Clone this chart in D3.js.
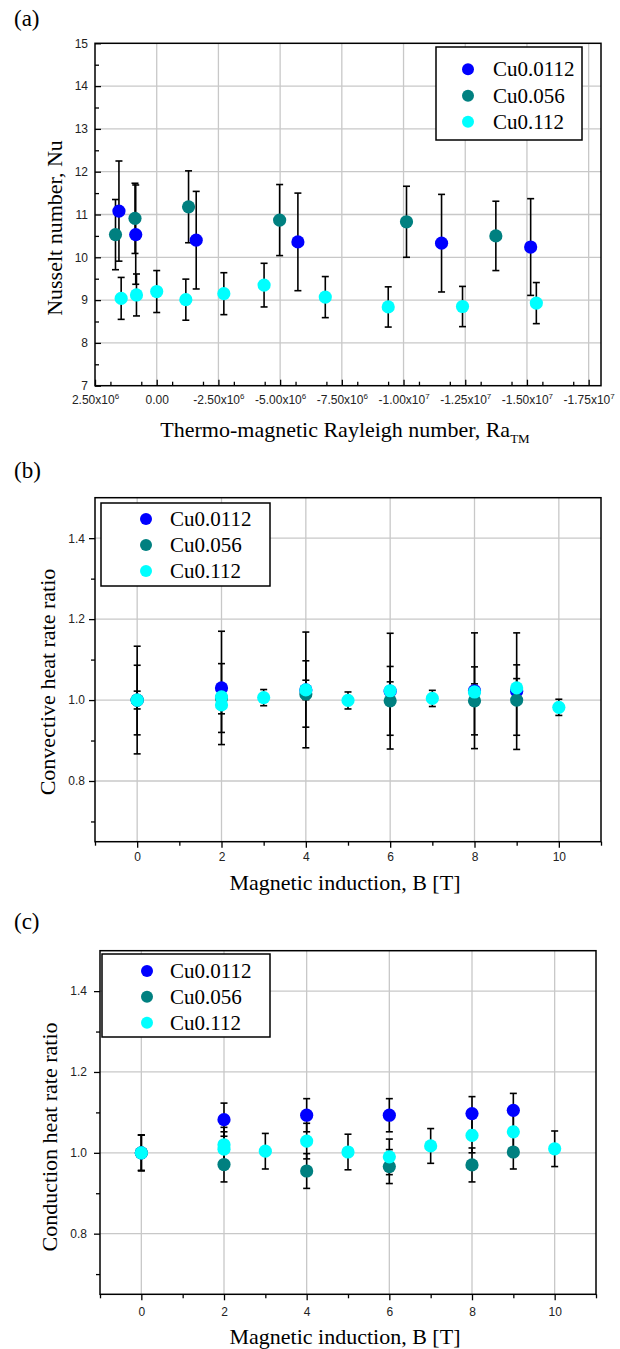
<!DOCTYPE html>
<html>
<head>
<meta charset="utf-8">
<script src="https://cdn.jsdelivr.net/npm/d3@7"></script>
<style>
  body { margin: 0; background: #fff; }
  svg { display: block; }
</style>
</head>
<body>
<div class="container"></div>
<script>
// series shared by all three panels
const seriesNames = ["Cu0.0112", "Cu0.056", "Cu0.112"];
const seriesColors = ["#0000ff", "#008080", "#00ffff"];

// panel (a): Nusselt number vs thermo-magnetic Rayleigh number
const raTicks = [2.5e6, 0, -2.5e6, -5e6, -7.5e6, -1e7, -1.25e7, -1.5e7, -1.75e7];
const raTickLabels = ["2.50x10^6", "0.00", "-2.50x10^6", "-5.00x10^6", "-7.50x10^6",
  "-1.00x10^7", "-1.25x10^7", "-1.50x10^7", "-1.75x10^7"];
const nuTicks = [7, 8, 9, 10, 11, 12, 13, 14, 15];

const raCu0112 = [1.53e6, 0.85e6, -1.6e6, -5.72e6, -11.54e6, -15.15e6];
const nuCu0112 = [11.08, 10.53, 10.40, 10.36, 10.33, 10.24];
const nuErrCu0112 = [1.17, 1.16, 1.14, 1.14, 1.14, 1.13];

const raCu056 = [1.67e6, 0.88e6, -1.29e6, -4.98e6, -10.12e6, -13.74e6];
const nuCu056 = [10.53, 10.91, 11.18, 10.87, 10.83, 10.50];
const nuErrCu056 = [0.82, 0.82, 0.84, 0.83, 0.83, 0.81];

const raCu112 = [1.44e6, 0.82e6, 0, -1.18e6, -2.72e6, -4.35e6, -6.83e6, -9.38e6, -12.39e6, -15.38e6];
const nuCu112 = [9.04, 9.12, 9.20, 9.01, 9.15, 9.35, 9.07, 8.84, 8.85, 8.93];
const nuErrCu112 = [0.49, 0.49, 0.49, 0.48, 0.49, 0.51, 0.48, 0.47, 0.47, 0.48];

// panels (b) and (c): ratios vs magnetic induction
const bTicks = [0, 2, 4, 6, 8, 10];
const ratioTicks = [0.8, 1.0, 1.2, 1.4];

const bCu0112 = [0, 2, 4, 6, 8, 9];
const bCu056 = [0, 2, 4, 6, 8, 9];
const bCu112 = [0, 2, 2, 3, 4, 5, 6, 7, 8, 9, 10];

const convCu0112 = [1.0, 1.03, 1.025, 1.022, 1.023, 1.022];
const convErrCu0112 = [0.133, 0.14, 0.143, 0.143, 0.143, 0.144];
const convCu056 = [1.0, 1.005, 1.015, 0.998, 0.998, 1.0];
const convErrCu056 = [0.086, 0.085, 0.082, 0.085, 0.084, 0.087];
const convCu112 = [1.0, 1.008, 0.988, 1.006, 1.025, 0.999, 1.023, 1.004, 1.02, 1.03, 0.982];
const convErrCu112 = [0.022, 0.02, 0.022, 0.02, 0.024, 0.021, 0.022, 0.02, 0.02, 0.023, 0.02];

const condCu0112 = [1.0, 1.082, 1.093, 1.093, 1.097, 1.105];
const condErrCu0112 = [0.044, 0.041, 0.041, 0.041, 0.042, 0.042];
const condCu056 = [1.0, 0.971, 0.955, 0.966, 0.970, 1.002];
const condErrCu056 = [0.044, 0.043, 0.043, 0.042, 0.042, 0.042];
const condCu112 = [1.0, 1.02, 1.009, 1.004, 1.029, 1.002, 0.99, 1.017, 1.043, 1.052, 1.01];
const condErrCu112 = [0.044, 0.043, 0.043, 0.044, 0.044, 0.044, 0.044, 0.043, 0.043, 0.043, 0.044];

const SANS = "'Liberation Sans', Arial, sans-serif";
const SERIF = "'Liberation Serif', 'Times New Roman', serif";

const svg = d3.select(".container")
  .append("svg")
  .attr("width", 620)
  .attr("height", 1349);

svg.append("rect").attr("width", 620).attr("height", 1349).attr("fill", "#fff");

function zipSeries(xs, ys, es) {
  return xs.map((d, i) => ({ x: d, y: ys[i], e: es[i] }));
}

function drawPanel(p) {
  const g = svg.append("g");
  const x = d3.scaleLinear().domain(p.xDomain).range([p.left, p.right]);
  const y = d3.scaleLinear().domain(p.yDomain).range([p.bottom, p.top]);

  // grid
  g.append("g").selectAll("line").data(p.xGrid).join("line")
    .attr("x1", d => x(d)).attr("x2", d => x(d))
    .attr("y1", p.top).attr("y2", p.bottom)
    .attr("stroke", "#c8c8c8").attr("stroke-width", 1.3);
  g.append("g").selectAll("line").data(p.yGrid).join("line")
    .attr("x1", p.left).attr("x2", p.right)
    .attr("y1", d => y(d)).attr("y2", d => y(d))
    .attr("stroke", "#c8c8c8").attr("stroke-width", 1.3);

  const dir = p.inward ? -1 : 1;

  // minor ticks
  g.append("g").attr("transform", `translate(0,${p.bottom})`)
    .call(d3.axisBottom(x).tickValues(p.xMinor).tickSize(dir * 4).tickFormat(""))
    .call(a => a.select(".domain").remove())
    .selectAll("line").attr("stroke-width", 1.3);
  g.append("g").attr("transform", `translate(${p.left},0)`)
    .call(d3.axisLeft(y).tickValues(p.yMinor).tickSize(dir * 4).tickFormat(""))
    .call(a => a.select(".domain").remove())
    .selectAll("line").attr("stroke-width", 1.3);

  // major ticks + labels
  const xAxisG = g.append("g").attr("transform", `translate(0,${p.bottom})`)
    .call(d3.axisBottom(x).tickValues(p.xMajor).tickSize(dir * 6))
    .call(a => a.select(".domain").remove());
  xAxisG.selectAll("line").attr("stroke-width", 1.3);
  xAxisG.selectAll("text")
    .attr("y", p.xLabelBase).attr("dy", null)
    .attr("font-family", SANS).attr("font-size", 12).attr("fill", "#222")
    .each(function (d, i) {
      const parts = p.xLabels[i].split("^");
      const t = d3.select(this).text(parts[0]);
      if (parts[1]) t.append("tspan").attr("dy", -5).attr("font-size", 8).text(parts[1]);
    });

  const yAxisG = g.append("g").attr("transform", `translate(${p.left},0)`)
    .call(d3.axisLeft(y).tickValues(p.yMajor).tickSize(dir * 6).tickFormat(p.yFormat))
    .call(a => a.select(".domain").remove());
  yAxisG.selectAll("line").attr("stroke-width", 1.3);
  yAxisG.selectAll("text")
    .attr("x", -p.yLabelGap)
    .attr("font-family", SANS).attr("font-size", 12).attr("fill", "#222");

  // frame
  g.append("rect")
    .attr("x", p.left).attr("y", p.top)
    .attr("width", p.right - p.left).attr("height", p.bottom - p.top)
    .attr("fill", "none").attr("stroke", "#000").attr("stroke-width", 1.5);

  // error bars
  const bars = g.append("g").attr("stroke", "#000").attr("stroke-width", 1.6);
  p.series.forEach(s => {
    s.forEach(d => {
      const cx = x(d.x), y0 = y(d.y - d.e), y1 = y(d.y + d.e);
      bars.append("line").attr("x1", cx).attr("x2", cx).attr("y1", y0).attr("y2", y1);
      bars.append("line").attr("x1", cx - 3.5).attr("x2", cx + 3.5).attr("y1", y0).attr("y2", y0);
      bars.append("line").attr("x1", cx - 3.5).attr("x2", cx + 3.5).attr("y1", y1).attr("y2", y1);
    });
  });

  // points
  p.series.forEach((s, k) => {
    g.append("g").selectAll("circle").data(s).join("circle")
      .attr("cx", d => x(d.x)).attr("cy", d => y(d.y))
      .attr("r", 6.6).attr("fill", seriesColors[k]);
  });

  // legend
  const L = p.legend;
  g.append("rect")
    .attr("x", L.x0).attr("y", L.y0)
    .attr("width", L.x1 - L.x0).attr("height", L.y1 - L.y0)
    .attr("fill", "#fff").attr("stroke", "#000").attr("stroke-width", 1.5);
  seriesNames.forEach((name, k) => {
    g.append("circle").attr("cx", L.cx).attr("cy", L.rows[k]).attr("r", 6)
      .attr("fill", seriesColors[k]);
    g.append("text").attr("x", L.tx).attr("y", L.rows[k] + 7)
      .attr("font-family", SERIF).attr("font-size", 21).text(name);
  });

  // titles
  const xt = g.append("text")
    .attr("x", (p.left + p.right) / 2 - 3).attr("y", p.xTitleBase)
    .attr("text-anchor", "middle")
    .attr("font-family", SERIF).attr("font-size", 22)
    .text(p.xTitle);
  if (p.xTitleSub) xt.append("tspan").attr("dy", 6).attr("font-size", 13).text(p.xTitleSub);

  g.append("text")
    .attr("transform", `translate(${p.yTitleX},${p.yTitleY}) rotate(-90)`)
    .attr("text-anchor", "middle")
    .attr("font-family", SERIF).attr("font-size", 22)
    .text(p.yTitle);

  g.append("text")
    .attr("x", 14).attr("y", p.labelBase)
    .attr("font-family", SERIF).attr("font-size", 23)
    .text(p.label);
}

const bMinor = [-1, 1, 3, 5, 7, 9, 11];
const ratioMinor = [0.7, 0.9, 1.1, 1.3];
const ratioFormat = d3.format(".1f");

// (a)
drawPanel({
  left: 95, right: 601, top: 43.3, bottom: 385.7,
  xDomain: [2.5e6, -1.8e7], yDomain: [7, 15],
  xMajor: raTicks, xLabels: raTickLabels,
  xMinor: d3.range(0, 17).map(i => 1.875e6 - i * 1.25e6).filter(v => v > -1.8e7),
  yMajor: nuTicks, yMinor: nuTicks.slice(0, -1).map(v => v + 0.5),
  xGrid: raTicks.slice(1), yGrid: nuTicks.slice(1, -1),
  inward: true, yFormat: d3.format("d"),
  xLabelBase: 18, yLabelGap: 7,
  series: [
    zipSeries(raCu0112, nuCu0112, nuErrCu0112),
    zipSeries(raCu056, nuCu056, nuErrCu056),
    zipSeries(raCu112, nuCu112, nuErrCu112)
  ],
  legend: { x0: 436, x1: 582, y0: 47, y1: 140, cx: 468, tx: 493, rows: [69.3, 95.7, 121.7] },
  xTitle: "Thermo-magnetic Rayleigh number, Ra", xTitleSub: "TM", xTitleBase: 437,
  yTitle: "Nusselt number, Nu", yTitleX: 62, yTitleY: 228,
  label: "(a)", labelBase: 26
});

// (b)
drawPanel({
  left: 95, right: 601, top: 497.7, bottom: 841.7,
  xDomain: [-1, 11], yDomain: [0.65, 1.5],
  xMajor: bTicks, xLabels: bTicks.map(String), xMinor: bMinor,
  yMajor: ratioTicks, yMinor: ratioMinor,
  xGrid: bTicks, yGrid: ratioTicks,
  inward: false, yFormat: ratioFormat,
  xLabelBase: 19.5, yLabelGap: 10,
  series: [
    zipSeries(bCu0112, convCu0112, convErrCu0112),
    zipSeries(bCu056, convCu056, convErrCu056),
    zipSeries(bCu112, convCu112, convErrCu112)
  ],
  legend: { x0: 101, x1: 270, y0: 503, y1: 586, cx: 146, tx: 170, rows: [519, 545, 571] },
  xTitle: "Magnetic induction, B [T]", xTitleBase: 890,
  yTitle: "Convective heat rate ratio", yTitleX: 55, yTitleY: 682,
  label: "(b)", labelBase: 478
});

// (c)
drawPanel({
  left: 100, right: 596, top: 950.7, bottom: 1294.3,
  xDomain: [-1, 11], yDomain: [0.65, 1.5],
  xMajor: bTicks, xLabels: bTicks.map(String), xMinor: bMinor,
  yMajor: ratioTicks, yMinor: ratioMinor,
  xGrid: bTicks, yGrid: ratioTicks,
  inward: false, yFormat: ratioFormat,
  xLabelBase: 21.7, yLabelGap: 13,
  series: [
    zipSeries(bCu0112, condCu0112, condErrCu0112),
    zipSeries(bCu056, condCu056, condErrCu056),
    zipSeries(bCu112, condCu112, condErrCu112)
  ],
  legend: { x0: 102, x1: 270, y0: 954, y1: 1037, cx: 147, tx: 170, rows: [971, 996.7, 1022.7] },
  xTitle: "Magnetic induction, B [T]", xTitleBase: 1344,
  yTitle: "Conduction heat rate ratio", yTitleX: 57, yTitleY: 1137,
  label: "(c)", labelBase: 929
});
</script>
</body>
</html>
